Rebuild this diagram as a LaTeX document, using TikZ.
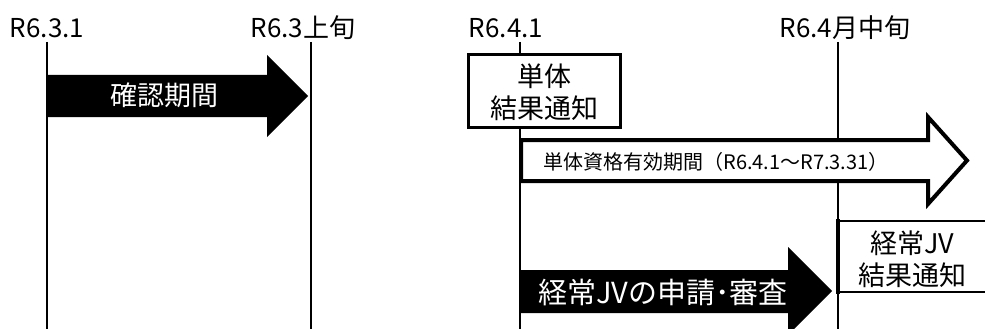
\documentclass[tikz,border=0pt]{standalone}
\usepackage{fontspec}
\setmainfont{Noto Sans CJK JP}
\begin{document}
\begin{tikzpicture}[x=1pt,y=-1pt,
    hizuke/.style={font=\fontsize{26}{28}\selectfont, inner sep=0pt},
    shiromoji/.style={text=white, font=\fontsize{27}{30}\selectfont, inner sep=0pt},
    waku/.style={align=center, font=\fontsize{27}{32}\selectfont, inner sep=0pt},
    jikuline/.style={line width=1.8pt}]
  \useasboundingbox (0,0) rectangle (985,329);
  % 日付のラベル
  \node[hizuke] (d1) at (47,28) {R6.3.1};
  \node[hizuke] (d2) at (303,28) {R6.3上旬};
  \node[hizuke] (d3) at (506,28) {R6.4.1};
  \node[hizuke] (d4) at (845,28) {R6.4月中旬};
  % 日付の縦線
  \foreach \n/\x in {1/47,2/311,3/520,4/838}{
    \coordinate (t\n) at (\x,42);
    \draw[jikuline] (t\n) -- (\x,329);
  }
  % 確認期間の矢印（黒）
  \fill (47,75) -- (267,75) -- (267,55) -- (308,96) -- (267,137) -- (267,117) -- (47,117) -- cycle;
  \node[shiromoji] (kakunin) at (164,95) {確認期間};
  % 単体の結果通知の枠
  \draw[line width=3pt, fill=white] (468,55) rectangle (620,127);
  \node[waku] (tantai) at (544,92) {単体\\結果通知};
  % 単体資格有効期間の矢印（白抜き）
  \draw[line width=4pt, fill=white, line join=miter]
    (521,140) -- (928,140) -- (928,117) -- (967,160.5) -- (928,204) -- (928,181) -- (521,181) -- cycle;
  \node[font=\fontsize{20}{22}\selectfont, inner sep=0pt] (yuko) at (716,162) {単体資格有効期間（R6.4.1～R7.3.31）};
  % 経常JVの申請・審査の矢印（黒）
  \fill (520,270) -- (788,270) -- (788,247) -- (832,291) -- (788,335) -- (788,313) -- (520,313) -- cycle;
  \node[shiromoji, font=\fontsize{29}{30}\selectfont] (shinsei) at (663,292) {経常JVの申請･審査};
  % 経常JVの結果通知の枠
  \fill[white] (838,221) rectangle (985,292);
  \draw[line width=2.5pt] (838,221) -- (985,221);
  \draw[line width=2.5pt] (838,292) -- (985,292);
  \draw[line width=3.5pt] (838,219) -- (838,294);
  \node[waku] (jv) at (912,259) {経常JV\\結果通知};
\end{tikzpicture}
\end{document}
